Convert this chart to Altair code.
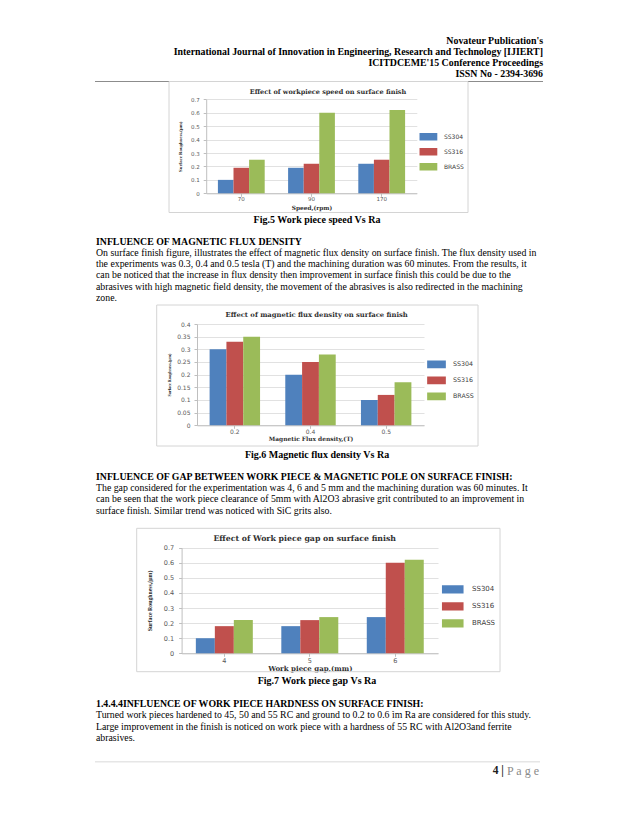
import altair as alt
import pandas as pd

# ---------------- data ----------------
SERIES = ["SS304", "SS316", "BRASS"]
COLORS = ["#4f81bd", "#c0504d", "#9bbb59"]

speed_cats = ["70", "90", "170"]
speed_ss304 = [0.10, 0.19, 0.22]
speed_ss316 = [0.19, 0.22, 0.25]
speed_brass = [0.25, 0.60, 0.62]

flux_cats = ["0.2", "0.4", "0.5"]
flux_ss304 = [0.30, 0.20, 0.10]
flux_ss316 = [0.33, 0.25, 0.12]
flux_brass = [0.35, 0.28, 0.17]

gap_cats = ["4", "5", "6"]
gap_ss304 = [0.10, 0.18, 0.24]
gap_ss316 = [0.18, 0.22, 0.60]
gap_brass = [0.22, 0.24, 0.62]

ticks_07 = [0, 0.1, 0.2, 0.3, 0.4, 0.5, 0.6, 0.7]
ticks_04 = [0, 0.05, 0.1, 0.15, 0.2, 0.25, 0.3, 0.35, 0.4]

y_title = "Surface Roughness,(µm)"
chart_titles = ["Effect of workpiece speed on surface finish",
                "Effect of magnetic flux density on surface finish",
                "Effect of Work piece gap on surface finish"]
x_titles = ["Speed,(rpm)", "Magnetic Flux density,(T)", "Work piece gap,(mm)"]

header_lines = ["Novateur Publication's",
                "International Journal of Innovation in Engineering, Research and Technology [IJIERT]",
                "ICITDCEME'15 Conference Proceedings",
                "ISSN No - 2394-3696"]
captions = ["Fig.5 Work piece speed Vs Ra",
            "Fig.6 Magnetic flux density Vs Ra",
            "Fig.7 Work piece gap Vs Ra"]
headings = ["INFLUENCE OF MAGNETIC FLUX DENSITY",
            "INFLUENCE OF GAP BETWEEN WORK PIECE & MAGNETIC POLE ON SURFACE FINISH:",
            "1.4.4.4INFLUENCE OF WORK PIECE HARDNESS ON SURFACE FINISH:"]
para1 = ["On surface finish figure, illustrates the effect of magnetic flux density on surface finish. The flux density used in",
         "the experiments was 0.3, 0.4 and 0.5 tesla (T) and the machining duration was 60 minutes. From the results, it",
         "can be noticed that the increase in flux density then improvement in surface finish this could be due to the",
         "abrasives with high magnetic field density, the movement of the abrasives is also redirected in the machining",
         "zone."]
para2 = ["The gap considered for the experimentation was 4, 6 and 5 mm and the machining duration was 60 minutes. It",
         "can be seen that the work piece clearance of 5mm with Al2O3 abrasive grit contributed to an improvement in",
         "surface finish. Similar trend was noticed with SiC grits also."]
para3 = ["Turned work pieces hardened to 45, 50 and 55 RC and ground to 0.2 to 0.6 ìm Ra are considered for this study.",
         "Large improvement in the finish is noticed on work piece with a hardness of 55 RC with Al2O3and ferrite",
         "abrasives."]
footer_num = "4 |"
footer_word = "P a g e"

# ---------------- layout (pixels inside the 622x810 page) ----------------
W, H = 622, 810
TEXT_L = 88
HEADER_R = 535
BODY = 9.8

def text_block(lines, x, ys, align, size, weight="normal", font="Liberation Serif", color="#000000"):
    df = pd.DataFrame({"t": lines, "y": ys})
    return alt.Chart(df).mark_text(
        align=align, baseline="middle", font=font, fontSize=size,
        fontWeight=weight, color=color
    ).encode(x=alt.value(x), y=alt.Y("y:Q", scale=None, axis=None), text="t:N")


def box(x0, x1, y0, y1):
    return alt.Chart(pd.DataFrame({"a": [0]})).mark_rect(
        fillOpacity=0, stroke="#d4d4d4", strokeWidth=1
    ).encode(x=alt.value(x0), x2=alt.value(x1), y=alt.value(y0), y2=alt.value(y1))


def hline(x0, x1, y, color, width):
    return alt.Chart(pd.DataFrame({"a": [0]})).mark_rule(
        color=color, strokeWidth=width
    ).encode(x=alt.value(x0), x2=alt.value(x1), y=alt.value(y))


def bar_chart(cats, s304, s316, brass, ticks, ymax, xtitle, L):
    df = pd.DataFrame({
        "cat": cats * 3,
        "series": [s for s in SERIES for _ in cats],
        "val": s304 + s316 + brass,
    })
    x0, x1, yb, yt = L["plot"]
    ax_x = alt.Axis(
        orient="bottom", offset=-(H - yb), title=xtitle, labelAngle=0,
        labelFont="DejaVu Sans", labelFontSize=L["lab"], labelColor="#595959",
        labelPadding=L["lpx"], tickSize=3, tickColor="#bfbfbf",
        domainColor="#bfbfbf", domainWidth=1, grid=False,
        titleFont="DejaVu Serif", titleFontWeight="bold", titleFontSize=L["xt"],
        titleColor="#303030", titleY=L["xty"], titleBaseline="middle",
    )
    ax_y = alt.Axis(
        orient="left", offset=-x0, values=ticks, format="~g", title=y_title,
        grid=True, gridColor="#d9d9d9", gridWidth=0.8,
        domainColor="#bfbfbf", domainWidth=1, tickSize=3, tickColor="#bfbfbf",
        labelFont="DejaVu Sans", labelFontSize=L["lab"], labelColor="#595959",
        labelPadding=L["lpy"],
        titleFont="Liberation Serif", titleFontWeight="bold", titleFontSize=L["yt"],
        titleColor="#202020", titleX=L["ytx"], titleBaseline="middle", titleAngle=270,
    )
    sw, sh, spacing = L["sym"]
    path = "M-1,-{h}L1,-{h}L1,{h}L-1,{h}Z".format(h=round(sh / sw, 3))
    leg = alt.Legend(
        orient="none", legendX=L["legx"], legendY=L["legy"] - spacing / 2,
        title=None, symbolType=path, symbolSize=sw * sw, symbolStrokeWidth=0,
        labelFont="DejaVu Sans", labelFontSize=L["legf"], labelColor="#404040",
        labelOffset=L["lego"], padding=0, rowPadding=0, clipHeight=spacing,
        symbolOpacity=1,
    )
    return alt.Chart(df).mark_bar().encode(
        x=alt.X("cat:N", sort=cats,
                scale=alt.Scale(range=[x0, x1], paddingInner=1 / 3, paddingOuter=1 / 6),
                axis=ax_x),
        xOffset=alt.XOffset("series:N", sort=SERIES,
                            scale=alt.Scale(paddingInner=0, paddingOuter=0)),
        y=alt.Y("val:Q", scale=alt.Scale(domain=[0, ymax], range=[yb, yt], nice=False),
                axis=ax_y),
        color=alt.Color("series:N", scale=alt.Scale(domain=SERIES, range=COLORS), legend=leg),
    )


L1 = dict(plot=(198.2, 408.8, 185.3, 91.3), lab=5.5, lpx=0.3, lpy=4, xt=5.8, xty=14.2,
          yt=4.8, ytx=-26, sym=(18, 7.5, 14.3), legx=411.3, legy=128.7, legf=6, lego=6.7)
L2 = dict(plot=(189, 416, 417.3, 316), lab=6, lpx=0, lpy=4, xt=5.9, xty=13.6,
          yt=4.1, ytx=-27.7, sym=(18.7, 7.7, 15.5), legx=419, legy=356.3, legf=6.3, lego=7)
L3 = dict(plot=(173.6, 430, 645.3, 539.7), lab=6.5, lpx=0.7, lpy=5, xt=7, xty=15.6,
          yt=5.8, ytx=-32.3, sym=(21.7, 8.3, 16.5), legx=433.7, legy=581.3, legf=7, lego=8.3)

layers = [
    hline(87, 161, 73.5, "#8c8c8c", 1),
    hline(460, 535, 73.5, "#8c8c8c", 1),
    hline(87, 532, 753.7, "#e6e6e6", 1.5),
    box(161, 460, 73.5, 204.5),
    box(148.7, 470, 297, 438),
    box(128.7, 492, 520.3, 663.7),
    text_block(header_lines, HEADER_R, [32.7, 43.5, 54.5, 65.5], "right", 9.9, "bold"),
    text_block(captions[:1], 309, [211.5], "center", 10, "bold"),
    text_block(captions[1:2], 309, [447], "center", 10, "bold"),
    text_block(captions[2:], 309, [673], "center", 10, "bold"),
    text_block(headings, TEXT_L, [233.7, 468.7, 696], "left", BODY, "bold"),
    text_block(para1, TEXT_L, [244.7, 256, 267.3, 278.6, 289.9], "left", BODY),
    text_block(para2, TEXT_L, [480, 491.3, 502.6], "left", BODY),
    text_block(para3, TEXT_L, [707, 718.7, 730.3], "left", BODY),
    text_block([chart_titles[0]], 320, [83.7], "center", 6.5, "bold", "DejaVu Serif", "#303030"),
    text_block([chart_titles[1]], 308.7, [307], "center", 6.8, "bold", "DejaVu Serif", "#303030"),
    text_block([chart_titles[2]], 296.7, [531], "center", 7.8, "bold", "DejaVu Serif", "#303030"),
    text_block([footer_num], 484.7, [762.7], "left", 11.5, "bold", "Liberation Serif", "#202020"),
    text_block([footer_word], 531, [762.7], "right", 12, "normal", "Liberation Serif", "#8a8a8a"),
    bar_chart(speed_cats, speed_ss304, speed_ss316, speed_brass, ticks_07, 0.7, x_titles[0], L1),
    bar_chart(flux_cats, flux_ss304, flux_ss316, flux_brass, ticks_04, 0.4, x_titles[1], L2),
    bar_chart(gap_cats, gap_ss304, gap_ss316, gap_brass, ticks_07, 0.7, x_titles[2], L3),
]

chart = alt.layer(*layers).resolve_scale(
    x="independent", y="independent", color="independent", xOffset="independent"
).properties(
    width=W, height=H, padding=0,
    autosize=alt.AutoSizeParams(type="none"), background="white",
).configure_view(stroke=None)

chart.save("out.html", embed_options={"renderer": "svg", "actions": False})
